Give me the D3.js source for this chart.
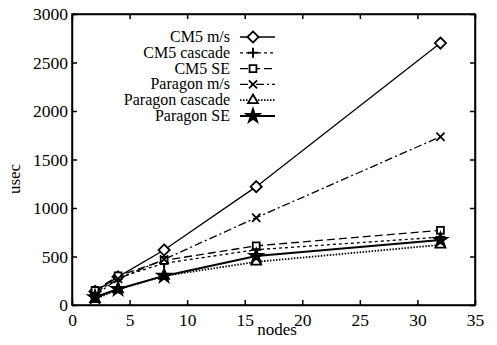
<!DOCTYPE html>
<html>
<head>
<meta charset="utf-8">
<script src="https://cdn.jsdelivr.net/npm/d3@7"></script>
<style>
  body { margin: 0; background: #fff; }
  .axis path, .axis line { stroke: #000; stroke-width: 1.5; }
</style>
</head>
<body>
<div id="d3container"></div>
<script>
var nodes = [2, 4, 8, 16, 32];
var seriesNames = ['CM5 m/s', 'CM5 cascade', 'CM5 SE', 'Paragon m/s', 'Paragon cascade', 'Paragon SE'];
var cm5Ms = [140, 290, 567, 1220, 2700];
var cm5Cascade = [120, 280, 430, 570, 700];
var cm5Se = [150, 300, 460, 610, 770];
var paragonMs = [100, 270, 470, 900, 1735];
var paragonCascade = [60, 160, 300, 445, 620];
var paragonSe = [80, 165, 300, 505, 670];
var xTicks = [0, 5, 10, 15, 20, 25, 30, 35];
var yTicks = [0, 500, 1000, 1500, 2000, 2500, 3000];

var serif = '"Liberation Serif", "Times New Roman", Times, "DejaVu Serif", serif';
var width = 497, height = 345;
var margin = {left: 72, right: 22, top: 14, bottom: 40};
var innerW = width - margin.left - margin.right;
var innerH = height - margin.top - margin.bottom;

var x = d3.scaleLinear().domain([0, 35]).range([0, innerW]);
var y = d3.scaleLinear().domain([0, 3000]).range([innerH, 0]);

var svg = d3.select('#d3container').append('svg')
    .attr('width', width).attr('height', height)
    .style('font-family', serif);
var chartGroup = svg.append('g')
    .attr('transform', 'translate(' + margin.left + ',' + margin.top + ')');

// frame
chartGroup.append('rect')
    .attr('width', innerW).attr('height', innerH)
    .attr('fill', 'none').attr('stroke', '#000').attr('stroke-width', 1.5);

chartGroup.append('g').attr('class', 'x axis')
    .attr('transform', 'translate(0,' + innerH + ')')
    .call(d3.axisBottom(x).tickValues(xTicks).tickSizeInner(-5).tickSizeOuter(0).tickPadding(9).tickFormat(d3.format('d')));
chartGroup.append('g').attr('class', 'x axis')
    .call(d3.axisTop(x).tickValues(xTicks).tickSizeInner(-5).tickSizeOuter(0).tickFormat(''));
chartGroup.append('g').attr('class', 'y axis')
    .call(d3.axisLeft(y).tickValues(yTicks).tickSizeInner(-5).tickSizeOuter(0).tickPadding(4).tickFormat(d3.format('d')));
chartGroup.append('g').attr('class', 'y axis')
    .attr('transform', 'translate(' + innerW + ',0)')
    .call(d3.axisRight(y).tickValues(yTicks).tickSizeInner(-5).tickSizeOuter(0).tickFormat(''));
svg.selectAll('.axis').attr('font-family', null).attr('font-size', 17.5);
svg.selectAll('.axis text').attr('fill', '#000').style('font-family', serif);

svg.append('text')
    .attr('transform', 'translate(20,179) rotate(-90)')
    .attr('text-anchor', 'middle').attr('font-size', 17).text('usec');
svg.append('text')
    .attr('x', 277).attr('y', 335)
    .attr('text-anchor', 'middle').attr('font-size', 17).text('nodes');

var series = [
    {name: seriesNames[0], values: cm5Ms, dash: null, width: 1.3, sym: d3.symbolDiamond2, fill: 'none', size: 80},
    {name: seriesNames[1], values: cm5Cascade, dash: '3,3', width: 1.3, sym: d3.symbolPlus, fill: '#000', size: 70},
    {name: seriesNames[2], values: cm5Se, dash: '8,4', width: 1.3, sym: d3.symbolSquare2, fill: 'none', size: 60},
    {name: seriesNames[3], values: paragonMs, dash: '8,3,2,3', width: 1.3, sym: d3.symbolX, fill: 'none', size: 45},
    {name: seriesNames[4], values: paragonCascade, dash: '1.5,1.5', width: 1.8, sym: d3.symbolTriangle2, fill: 'none', size: 70},
    {name: seriesNames[5], values: paragonSe, dash: null, width: 2, sym: d3.symbolStar, fill: '#000', size: 55}
];

var line = d3.line()
    .x(function (d, i) { return x(nodes[i]); })
    .y(function (d) { return y(d); });

function marker(g, s, cx, cy) {
    if (s.sym === d3.symbolPlus) {
        g.append('path')
            .attr('d', 'M-5,0H5M0,-5V5')
            .attr('transform', 'translate(' + cx + ',' + cy + ')')
            .attr('stroke', '#000').attr('stroke-width', 2).attr('fill', 'none');
        return;
    }
    g.append('path')
        .attr('d', d3.symbol().type(s.sym).size(s.size)())
        .attr('transform', 'translate(' + cx + ',' + cy + ')')
        .attr('fill', s.sym === d3.symbolX ? 'none' : (s.fill === 'none' ? '#fff' : s.fill))
        .attr('stroke', '#000').attr('stroke-width', 1.8);
}

series.forEach(function (s) {
    chartGroup.append('path')
        .attr('d', line(s.values))
        .attr('fill', 'none').attr('stroke', '#000')
        .attr('stroke-width', s.width)
        .attr('stroke-dasharray', s.dash);
});
series.forEach(function (s) {
    var g = chartGroup.append('g');
    s.values.forEach(function (v, i) { marker(g, s, x(nodes[i]), y(v)); });
});

// legend
var legend = svg.append('g');
series.forEach(function (s, i) {
    var ly = 37 + i * 15.8;
    legend.append('text')
        .attr('x', 230).attr('y', ly + 5)
        .attr('text-anchor', 'end').attr('font-size', 16).text(s.name);
    legend.append('line')
        .attr('x1', 240).attr('x2', 275).attr('y1', ly).attr('y2', ly)
        .attr('stroke', '#000').attr('stroke-width', s.width)
        .attr('stroke-dasharray', s.dash);
    marker(legend, s, 253, ly);
});
</script>
</body>
</html>
